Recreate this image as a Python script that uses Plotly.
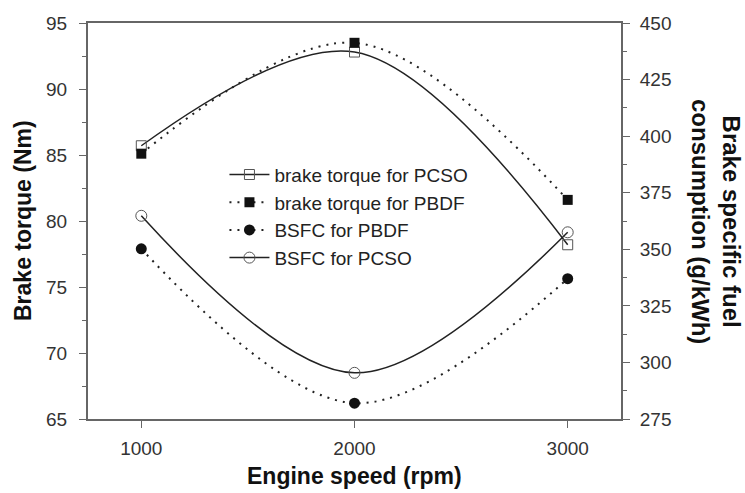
import plotly.graph_objects as go

speed = [1000, 2000, 3000]
torque_pcso = [85.7, 92.8, 78.2]
torque_pbdf = [85.1, 93.5, 81.6]
bsfc_pbdf = [350.2, 282.0, 337.0]
bsfc_pcso = [364.8, 295.4, 357.5]

lc = "#222222"
ac = "#666666"
font = "Liberation Sans, Arial, sans-serif"
dotted = "2px,6px"

fig = go.Figure()
fig.add_trace(go.Scatter(x=speed, y=torque_pcso, name="brake torque for PCSO",
    mode="lines+markers", line=dict(color=lc, width=1.5, shape="spline"),
    marker=dict(symbol="square-open", size=10, color="#555555", line=dict(width=1))))
fig.add_trace(go.Scatter(x=speed, y=torque_pbdf, name="brake torque for PBDF",
    mode="lines+markers", line=dict(color=lc, width=2, dash=dotted, shape="spline"),
    marker=dict(symbol="square", size=10, color="#111111")))
fig.add_trace(go.Scatter(x=speed, y=bsfc_pbdf, name="BSFC for PBDF", yaxis="y2",
    mode="lines+markers", line=dict(color=lc, width=2, dash=dotted, shape="spline"),
    marker=dict(symbol="circle", size=11, color="#111111")))
fig.add_trace(go.Scatter(x=speed, y=bsfc_pcso, name="BSFC for PCSO", yaxis="y2",
    mode="lines+markers", line=dict(color=lc, width=1.5, shape="spline"),
    marker=dict(symbol="circle-open", size=11, color="#555555", line=dict(width=1))))

fig.update_layout(
    width=745, height=493,
    margin=dict(l=88, r=124, t=23, b=74),
    paper_bgcolor="white", plot_bgcolor="white",
    font=dict(family=font, size=19, color="#333333"),
    showlegend=True,
    legend=dict(x=0.256, y=0.665, xanchor="left", yanchor="top",
                bgcolor="rgba(0,0,0,0)", font=dict(size=19, color="#222222"),
                tracegroupgap=0, itemwidth=40),
    xaxis=dict(range=[750, 3250], tickvals=speed, ticks="outside", ticklen=7,
               tickcolor=ac, showline=True, linecolor=ac, linewidth=2, mirror=True,
               showgrid=False, zeroline=False, ticklabelstandoff=4),
    yaxis=dict(range=[65, 95], dtick=5, ticks="outside", ticklen=7, tickcolor=ac,
               showline=True, linecolor=ac, linewidth=2, showgrid=False, zeroline=False,
               ticklabelstandoff=8,
               minor=dict(dtick=2.5, ticklen=4, tickcolor=ac, ticks="outside", showgrid=False)),
    yaxis2=dict(range=[275, 450], dtick=25, overlaying="y", side="right", anchor="x",
                ticks="outside", ticklen=7, tickcolor=ac, showline=True, linecolor=ac,
                linewidth=2, showgrid=False, zeroline=False, ticklabelstandoff=6,
                minor=dict(dtick=12.5, ticklen=4, tickcolor=ac, ticks="outside", showgrid=False)),
)
fig.add_annotation(text="<b>Engine speed (rpm)</b>", xref="paper", yref="paper",
    x=0.5, y=0, yshift=-57, xanchor="center", yanchor="middle",
    showarrow=False, font=dict(size=23, color="#111111"))
fig.add_annotation(text="<b>Brake torque (Nm)</b>", xref="paper", yref="paper",
    x=0, y=0.5, xshift=-65, xanchor="center", yanchor="middle", textangle=-90,
    showarrow=False, font=dict(size=23, color="#111111"))
fig.add_annotation(text="<b>Brake specific fuel<br>consumption (g/kWh)</b>",
    xref="paper", yref="paper", x=1.0, y=0.5, xshift=95, textangle=90,
    xanchor="center", yanchor="middle",
    showarrow=False, font=dict(size=24, color="#111111"), align="center")

fig.write_html("out.html")
